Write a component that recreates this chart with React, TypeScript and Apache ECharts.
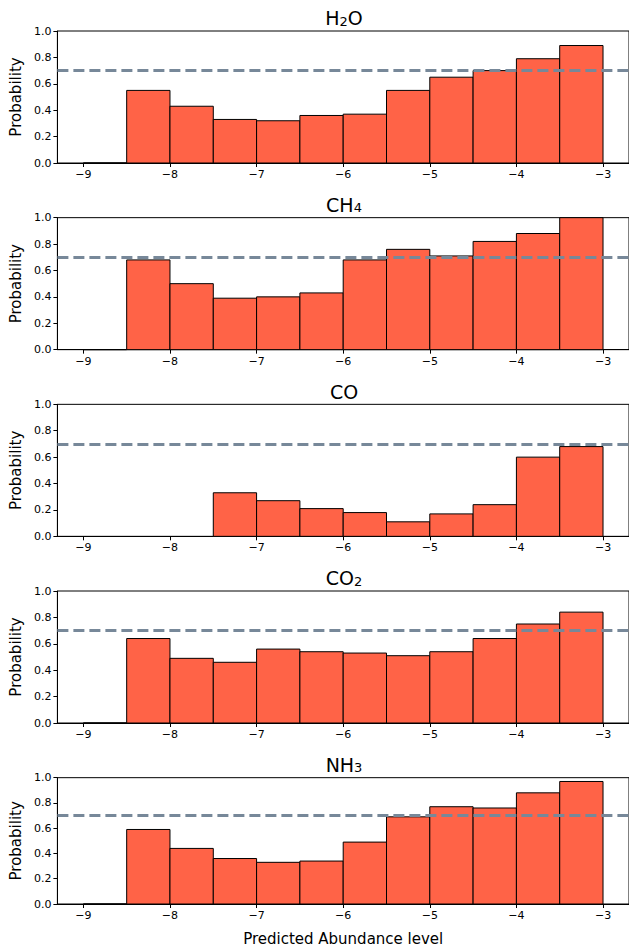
import React, { useEffect, useRef } from "react";
import * as echarts from "echarts";

// ---- data ----
const titles = ["{n|H}{s|2}{n|O}", "{n|CH}{s|4}", "{n|CO}", "{n|CO}{s|2}", "{n|NH}{s|3}"];
const binEdges = [-9, -8.5, -8, -7.5, -7, -6.5, -6, -5.5, -5, -4.5, -4, -3.5, -3];
const h2o = [0, 0.55, 0.43, 0.33, 0.32, 0.36, 0.37, 0.55, 0.65, 0.70, 0.79, 0.89];
const ch4 = [0, 0.68, 0.50, 0.39, 0.40, 0.43, 0.68, 0.76, 0.71, 0.82, 0.88, 1.0];
const co = [null, null, null, 0.33, 0.27, 0.21, 0.18, 0.11, 0.17, 0.24, 0.60, 0.68];
const co2 = [0, 0.64, 0.49, 0.46, 0.56, 0.54, 0.53, 0.51, 0.54, 0.64, 0.75, 0.84];
const nh3 = [0, 0.59, 0.44, 0.36, 0.33, 0.34, 0.49, 0.69, 0.77, 0.76, 0.88, 0.97];
const seriesValues = [h2o, ch4, co, co2, nh3];
const xTicks = [-9, -8, -7, -6, -5, -4, -3];
const yTicks = [0, 0.2, 0.4, 0.6, 0.8, 1.0];
const threshold = 0.7;
const yLabel = "Probability";
const xLabel = "Predicted Abundance level";

const FONT = "DejaVu Sans";
const BAR = "#FF6347";
const DASH = "#778899";

export default function App() {
  const ref = useRef<HTMLDivElement>(null);
  useEffect(() => {
    if (!ref.current) return;
    const chart = echarts.init(ref.current, null, { renderer: "svg" });
    const gridTop0 = 31;
    const step = 186.67;
    const h = 132;
    const left = 57;
    const grids: any[] = [];
    const xAxes: any[] = [];
    const yAxes: any[] = [];
    const series: any[] = [];
    const graphics: any[] = [];
    seriesValues.forEach((vals, i) => {
      const top = gridTop0 + i * step;
      grids.push({
        left,
        right: -2,
        top,
        height: h,
        show: true,
        borderColor: "#000",
        borderWidth: 1,
        backgroundColor: "transparent",
      });
      const last = i === seriesValues.length - 1;
      xAxes.push({
        type: "value",
        gridIndex: i,
        min: -9.3,
        max: -2.7,
        splitLine: { show: false },
        axisLine: { show: true, onZero: false, lineStyle: { color: "#000", width: 1 } },
        axisTick: { show: true, customValues: xTicks, length: 4, lineStyle: { color: "#000" } },
        axisLabel: {
          customValues: xTicks,
          formatter: (v: number) => String(v).replace("-", "\u2212"),
          fontFamily: FONT,
          fontSize: 11,
          color: "#000",
          margin: 6,
        },
        name: last ? xLabel : "",
        nameLocation: "middle",
        nameGap: 27,
        nameTextStyle: { fontFamily: FONT, fontSize: 15, color: "#000" },
      });
      yAxes.push({
        type: "value",
        gridIndex: i,
        min: yTicks[0],
        max: yTicks[yTicks.length - 1],
        interval: yTicks[1] - yTicks[0],
        splitLine: { show: false },
        axisLine: { show: true, lineStyle: { color: "#000", width: 1 } },
        axisTick: { show: true, length: 4, lineStyle: { color: "#000" } },
        axisLabel: {
          formatter: (v: number) => v.toFixed(1),
          fontFamily: FONT,
          fontSize: 11,
          color: "#000",
          margin: 6,
        },
        name: yLabel,
        nameLocation: "middle",
        nameGap: 29,
        nameTextStyle: { fontFamily: FONT, fontSize: 15, color: "#000" },
      });
      const data = vals
        .map((v, k) => (v == null ? null : [binEdges[k], binEdges[k + 1], v]))
        .filter((d) => d !== null);
      series.push({
        type: "custom",
        xAxisIndex: i,
        yAxisIndex: i,
        encode: { x: [0, 1], y: 2 },
        data,
        renderItem: (params: any, api: any) => {
          const p0 = api.coord([api.value(0), 0]);
          const p1 = api.coord([api.value(1), api.value(2)]);
          return {
            type: "rect",
            shape: { x: p0[0], y: p1[1], width: p1[0] - p0[0], height: p0[1] - p1[1] },
            style: { fill: BAR, stroke: "#000", lineWidth: 1 },
          };
        },
        markLine: {
          silent: true,
          symbol: "none",
          label: { show: false },
          lineStyle: { color: DASH, width: 3, type: [11, 5] },
          data: [{ yAxis: threshold }],
        },
      });
      graphics.push({
        type: "text",
        x: 344,
        y: top - 3.3,
        style: {
          text: titles[i],
          align: "center",
          verticalAlign: "bottom",
          fill: "#000",
          rich: {
            n: { fontFamily: FONT, fontSize: 19, lineHeight: 20, verticalAlign: "bottom", fill: "#000" },
            s: { fontFamily: FONT, fontSize: 13, lineHeight: 8, verticalAlign: "bottom", fill: "#000" },
          },
        },
      });
    });
    chart.setOption({
      animation: false,
      backgroundColor: "#fff",
      grid: grids,
      xAxis: xAxes,
      yAxis: yAxes,
      series,
      graphic: graphics,
    });
    return () => chart.dispose();
  }, []);
  return (
    <div
      ref={ref}
      style={{ position: "absolute", left: 0, top: 0, width: 629, height: 947 }}
    />
  );
}
